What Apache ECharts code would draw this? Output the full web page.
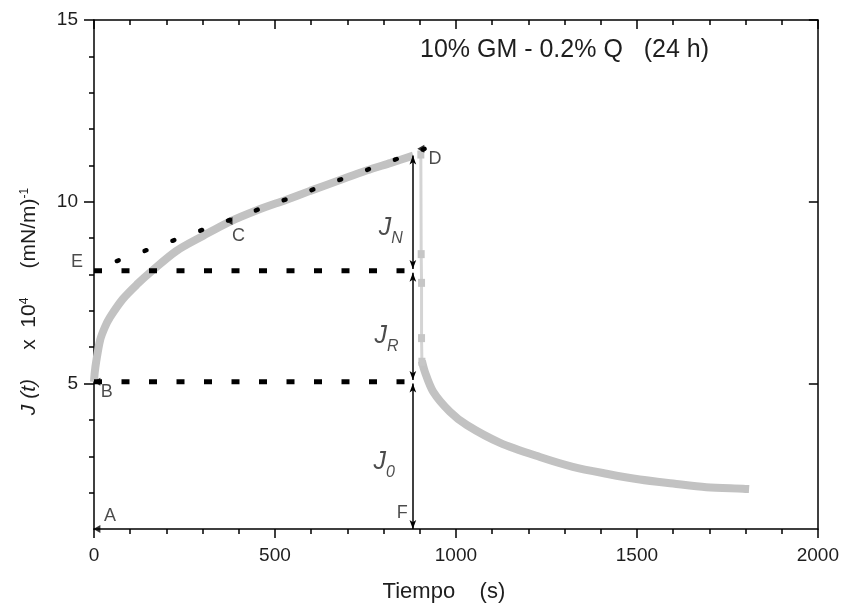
<!DOCTYPE html>
<html>
<head>
<meta charset="utf-8">
<script src="https://cdn.jsdelivr.net/npm/echarts@6/dist/echarts.min.js"></script>
<style>html,body{margin:0;padding:0;background:#fff}#c{width:842px;height:608px}</style>
</head>
<body>
<div id="c"></div>
<script>
// ---- data ----
const creepT = [0, 2, 6, 17, 30, 44, 80, 120, 159, 228, 301, 370, 459, 530, 597, 680, 753, 820, 882];
const creepJ = [5.05, 5.3, 5.6, 6.2, 6.55, 6.82, 7.33, 7.74, 8.09, 8.65, 9.06, 9.43, 9.8, 10.05, 10.3, 10.6, 10.86, 11.07, 11.27];
const dropT = [903, 904, 905, 905, 906];
const dropJ = [11.3, 8.56, 7.77, 6.25, 5.6];
const recT = [906, 914, 937, 983, 1030, 1122, 1232, 1323, 1416, 1508, 1600, 1692, 1793, 1810];
const recJ = [5.62, 5.33, 4.78, 4.23, 3.86, 3.37, 2.98, 2.71, 2.52, 2.36, 2.25, 2.15, 2.11, 2.1];
const fitT = [63, 978];
const fitJ = [8.37, 11.69];
const levelE = 8.1;
const levelB = 5.05;
const levelF = 1.0;
const levelD = 11.27;
const tJump = 881;
const markersLeft = [[373, 9.47], [903, 11.46], [8, 5.05], [8, 1.0]];
const labels = [
  [44, 1.35, 'A'], [35, 4.78, 'B'], [399, 9.06, 'C'], [942, 11.17, 'D'],
  [-47, 8.34, 'E'], [852, 1.45, 'F'],
  [820, 9.2, '{j|J}{s|N}'], [808, 6.22, '{j|J}{s|R}'], [802, 2.75, '{j|J}{s|0}']
];
const yMajor = [5, 10, 15];
const yMinor = [2, 3, 4, 6, 7, 8, 9, 11, 12, 13, 14];
const titleText = '10% GM - 0.2% Q   (24 h)';
const xName = 'Tiempo    (s)';
const yName = '{i|J (t)}     x  10{sup|4}     (mN/m){sup|-1}';

const FONT = 'Liberation Sans';
const TXT = '#1e1e1e';
const chart = echarts.init(document.getElementById('c'), null, {renderer: 'canvas'});
const zip = (a, b) => a.map((v, i) => [v, b[i]]);
const blackLine = {color: '#000', width: 1.5};

const yBase = {type: 'value', min: 1, max: 15, splitLine: {show: false}};
const option = {
  animation: false,
  backgroundColor: '#fff',
  title: {text: titleText, left: 420, top: 38, padding: 0,
    textStyle: {fontFamily: FONT, fontSize: 25, fontWeight: 'normal', color: TXT}},
  grid: {left: 94, right: 24, top: 20, bottom: 79, containLabel: false},
  xAxis: [
    {type: 'value', min: 0, max: 2000, interval: 500, position: 'bottom',
     axisLine: {onZero: false, lineStyle: blackLine},
     axisTick: {inside: false, length: 9, lineStyle: blackLine},
     minorTick: {show: true, splitNumber: 5, length: 5, lineStyle: blackLine},
     axisLabel: {fontFamily: FONT, fontSize: 19, color: TXT, margin: 17, formatter: v => String(v)},
     splitLine: {show: false},
     name: xName, nameLocation: 'middle', nameGap: 52,
     nameTextStyle: {fontFamily: FONT, fontSize: 22, color: TXT, padding: [0, 24, 0, 0]}},
    {type: 'value', min: 0, max: 2000, interval: 500, position: 'top',
     axisLine: {onZero: false, lineStyle: blackLine},
     axisTick: {inside: true, length: 9, lineStyle: blackLine},
     minorTick: {show: true, splitNumber: 5, length: 5, lineStyle: blackLine},
     axisLabel: {show: false}, splitLine: {show: false}}
  ],
  yAxis: [
    Object.assign({}, yBase, {position: 'left',
     axisLine: {onZero: false, lineStyle: blackLine},
     axisTick: {inside: false, length: 10, customValues: yMajor, lineStyle: blackLine},
     axisLabel: {customValues: yMajor, fontFamily: FONT, fontSize: 19, color: TXT, margin: 16},
     name: yName, nameLocation: 'middle', nameRotate: 90, nameGap: 54,
     nameTextStyle: {fontFamily: FONT, fontSize: 21, color: TXT, padding: [0, 54, 0, 0],
       rich: {i: {fontFamily: FONT, fontSize: 21, fontStyle: 'italic', color: TXT},
              sup: {fontFamily: FONT, fontSize: 12, color: TXT, verticalAlign: 'top', lineHeight: 21}}}}),
    Object.assign({}, yBase, {position: 'left', axisLine: {show: false},
     axisTick: {inside: false, length: 5, customValues: yMinor, lineStyle: blackLine},
     axisLabel: {show: false}}),
    Object.assign({}, yBase, {position: 'right',
     axisLine: {onZero: false, lineStyle: blackLine},
     axisTick: {inside: true, length: 9, customValues: yMajor, lineStyle: blackLine},
     axisLabel: {show: false}}),
    Object.assign({}, yBase, {position: 'right', axisLine: {show: false},
     axisTick: {inside: true, length: 5, customValues: yMinor, lineStyle: blackLine},
     axisLabel: {show: false}})
  ],
  series: [
    {type: 'line', name: 'creep', data: zip(creepT, creepJ), smooth: 0.3, showSymbol: false,
     lineStyle: {color: '#c2c2c2', width: 8, cap: 'butt'}, z: 2},
    {type: 'line', name: 'drop', data: zip(dropT, dropJ), symbol: 'rect', symbolSize: [7, 8],
     itemStyle: {color: '#c6c6c6'}, lineStyle: {color: '#d4d4d4', width: 3}, z: 2},
    {type: 'line', name: 'recovery', data: zip(recT, recJ), smooth: 0.3, showSymbol: false,
     lineStyle: {color: '#c2c2c2', width: 8, cap: 'butt'}, z: 2},
    {type: 'line', name: 'fit', data: zip(fitT, fitJ), showSymbol: false,
     lineStyle: {color: '#000', width: 4.5, type: [2, 27.6], cap: 'round'}, z: 3},
    {type: 'line', name: 'E', data: [[0, levelE], [tJump, levelE]], showSymbol: false,
     lineStyle: {color: '#000', width: 5, type: [8, 19.5], cap: 'butt'}, z: 3},
    {type: 'line', name: 'B', data: [[0, levelB], [tJump, levelB]], showSymbol: false,
     lineStyle: {color: '#000', width: 5, type: [8, 19.5], cap: 'butt'}, z: 3},
    {type: 'line', name: 'arrows', data: [], z: 4,
     markLine: {silent: true, animation: false, symbol: ['arrow', 'arrow'], symbolSize: [5, 9],
       label: {show: false}, lineStyle: {color: '#000', width: 1.5, type: 'solid'},
       data: [
         [{coord: [tJump, levelD]}, {coord: [tJump, levelE + 0.05]}],
         [{coord: [tJump, levelE - 0.05]}, {coord: [tJump, levelB + 0.05]}],
         [{coord: [tJump, levelB - 0.05]}, {coord: [tJump, levelF]}]
       ]}},
    {type: 'scatter', name: 'markers', clip: false, data: markersLeft, symbol: 'triangle', symbolRotate: 90,
     symbolSize: [8, 7], itemStyle: {color: '#000'}, z: 5},
    {type: 'scatter', name: 'labels', clip: false, symbolSize: 0, z: 6,
     data: labels.map(l => ({value: [l[0], l[1]], name: l[2]})),
     label: {show: true, position: 'inside', formatter: p => p.name,
       fontFamily: FONT, fontSize: 18, color: TXT,
       rich: {j: {fontFamily: FONT, fontSize: 25, fontStyle: 'italic', color: TXT, verticalAlign: 'top', lineHeight: 31},
              s: {fontFamily: FONT, fontSize: 16, fontStyle: 'italic', color: TXT, verticalAlign: 'bottom', lineHeight: 16}}}}
  ]
};
chart.setOption(option);
</script>
</body>
</html>
